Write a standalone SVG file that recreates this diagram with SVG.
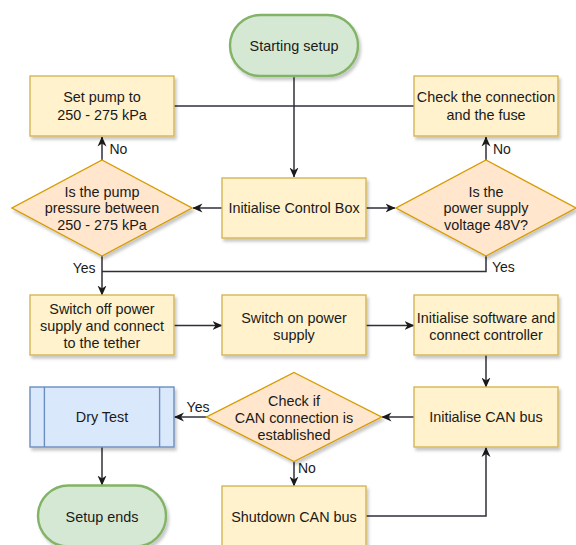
<svg xmlns="http://www.w3.org/2000/svg" width="576" height="545" viewBox="0 0 576 545">
  <defs>
    <filter id="shadow" x="-10%" y="-10%" width="130%" height="140%">
      <feDropShadow dx="2" dy="3" stdDeviation="1.6" flood-color="#000" flood-opacity="0.22"/>
    </filter>
    <marker id="arrow" viewBox="0 0 10 10" refX="9.5" refY="5" markerWidth="10" markerHeight="10" markerUnits="userSpaceOnUse" orient="auto">
      <path d="M0,0.5 L10,5 L0,9.5 L3,5 Z" fill="#1a1a1a"/>
    </marker>
    <style>
      .proc { fill: #fff2cc; stroke: #d6b656; stroke-width: 1.4; filter: url(#shadow); }
      .dec { fill: #ffe6cc; stroke: #d79b00; stroke-width: 1.4; filter: url(#shadow); }
      .term { fill: #d5e8d4; stroke: #82b366; stroke-width: 2.4; filter: url(#shadow); }
      .sub { fill: #dae8fc; stroke: #6c8ebf; stroke-width: 1.4; filter: url(#shadow); }
      .sub-line { stroke: #6c8ebf; stroke-width: 1.4; fill: none; }
      .t { font-family: "Liberation Sans", Arial, sans-serif; font-size: 14.4px; fill: #1a1a1a; text-anchor: middle; }
      .lbl { font-family: "Liberation Sans", Arial, sans-serif; font-size: 14px; fill: #1a1a1a; }
      .edge { fill: none; stroke: #2f2f3a; stroke-width: 1.5; }
      .arr { marker-end: url(#arrow); }
    </style>
  </defs>

  <rect width="576" height="545" fill="#ffffff"/>

  <!-- connectors -->
  <g id="connectors">
    <path class="edge arr" d="M294 76 V177"/>
    <path class="edge" d="M174 106 H414"/>
    <path class="edge arr" d="M222 208 H193"/>
    <path class="edge arr" d="M366 208 H395"/>
    <path class="edge arr" d="M102 160 V137"/>
    <path class="edge arr" d="M486 160 V137"/>
    <path class="edge arr" d="M102 256 V295"/>
    <path class="edge" d="M486 256 V271.5 H102"/>
    <path class="edge arr" d="M174 325.5 H222"/>
    <path class="edge arr" d="M366 325.5 H414"/>
    <path class="edge arr" d="M486 355 V387"/>
    <path class="edge arr" d="M414 417 H382"/>
    <path class="edge arr" d="M206.5 417 H174.5"/>
    <path class="edge arr" d="M102 447 V485"/>
    <path class="edge arr" d="M294 462 V486"/>
    <path class="edge arr" d="M366 516 H486 V447.5"/>

    <text class="lbl" x="109.5" y="154">No</text>
    <text class="lbl" x="493" y="154">No</text>
    <text class="lbl" x="95.5" y="273" text-anchor="end">Yes</text>
    <text class="lbl" x="492" y="272">Yes</text>
    <text class="lbl" x="198" y="412" text-anchor="middle">Yes</text>
    <text class="lbl" x="298" y="473">No</text>
  </g>

  <!-- nodes -->
  <g id="start">
    <rect class="term" x="230" y="15" width="128" height="61" rx="30.5" ry="30.5"/>
    <text class="t" x="294" y="51">Starting setup</text>
  </g>

  <g id="set-pump">
    <rect class="proc" x="30" y="76" width="144" height="60"/>
    <text class="t" x="102" y="102.4">Set pump to</text>
    <text class="t" x="102" y="119.6">250 - 275 kPa</text>
  </g>

  <g id="check-connection">
    <rect class="proc" x="414" y="76" width="144" height="60"/>
    <text class="t" x="486" y="102.4">Check the connection</text>
    <text class="t" x="486" y="119.6">and the fuse</text>
  </g>

  <g id="init-control-box">
    <rect class="proc" x="222" y="178" width="144" height="60"/>
    <text class="t" x="294" y="213">Initialise Control Box</text>
  </g>

  <g id="pump-pressure">
    <polygon class="dec" points="102,160 192,208 102,256 12,208"/>
    <text class="t" x="102" y="196.5">Is the pump</text>
    <text class="t" x="102" y="213.3">pressure between</text>
    <text class="t" x="102" y="230">250 - 275 kPa</text>
  </g>

  <g id="supply-voltage">
    <polygon class="dec" points="486,160 576,208 486,256 396,208"/>
    <text class="t" x="486" y="196.5">Is the</text>
    <text class="t" x="486" y="213.3">power supply</text>
    <text class="t" x="486" y="230">voltage 48V?</text>
  </g>

  <g id="switch-off">
    <rect class="proc" x="30" y="295" width="144" height="60"/>
    <text class="t" x="102" y="314">Switch off power</text>
    <text class="t" x="102" y="330.8">supply and connect</text>
    <text class="t" x="102" y="347.5">to the tether</text>
  </g>

  <g id="switch-on">
    <rect class="proc" x="222" y="295" width="144" height="60"/>
    <text class="t" x="294" y="322.8">Switch on power</text>
    <text class="t" x="294" y="339.6">supply</text>
  </g>

  <g id="init-software">
    <rect class="proc" x="414" y="295" width="144" height="60"/>
    <text class="t" x="486" y="322.8">Initialise software and</text>
    <text class="t" x="486" y="339.6">connect controller</text>
  </g>

  <g id="init-can">
    <rect class="proc" x="414" y="387" width="144" height="60"/>
    <text class="t" x="486" y="422">Initialise CAN bus</text>
  </g>

  <g id="can-check">
    <polygon class="dec" points="294,372.5 381.5,417 294,461.5 206.5,417"/>
    <text class="t" x="294" y="406">Check if</text>
    <text class="t" x="294" y="422.8">CAN connection is</text>
    <text class="t" x="294" y="439.5">established</text>
  </g>

  <g id="dry-test">
    <rect class="sub" x="30" y="387" width="144" height="60"/>
    <line class="sub-line" x1="44.4" y1="387" x2="44.4" y2="447"/>
    <line class="sub-line" x1="159.6" y1="387" x2="159.6" y2="447"/>
    <text class="t" x="102" y="422">Dry Test</text>
  </g>

  <g id="setup-ends">
    <rect class="term" x="38" y="485.5" width="128" height="61" rx="30.5" ry="30.5"/>
    <text class="t" x="102" y="521.5">Setup ends</text>
  </g>

  <g id="shutdown-can">
    <rect class="proc" x="222" y="486" width="144" height="60"/>
    <text class="t" x="294" y="521.5">Shutdown CAN bus</text>
  </g>
</svg>
